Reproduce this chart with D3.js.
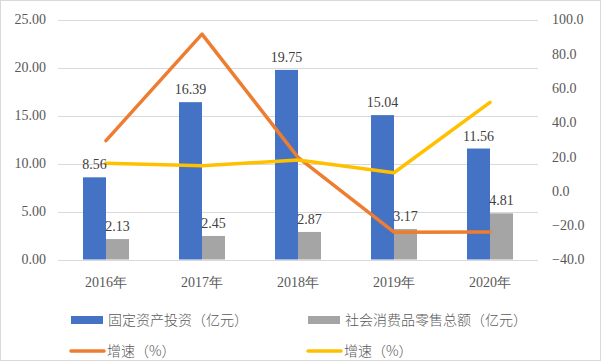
<!DOCTYPE html>
<html>
<head>
<meta charset="utf-8">
<script src="https://cdn.jsdelivr.net/npm/d3@7"></script>
<style>
    body { margin: 0; background: #fff; }
    svg { display: block; }
    text.serif { font-family: 'Liberation Serif', 'Times New Roman', serif; }
</style>
</head>
<body>
<svg id="vis_svg"></svg>
<script>
// Data
let years = ['2016年', '2017年', '2018年', '2019年', '2020年'];
let fixedAsset = [8.56, 16.39, 19.75, 15.04, 11.56];          // 固定资产投资（亿元）
let retailSales = [2.13, 2.45, 2.87, 3.17, 4.81];              // 社会消费品零售总额（亿元）
let fixedGrowth = [29.3, 91.5, 19.6, -24.1, -23.9];            // 增速（%） orange
let retailGrowth = [16.1, 14.7, 18.0, 10.6, 51.7];             // 增速（%） yellow
let leftTicks = [0, 5, 10, 15, 20, 25];
let rightTicks = [-40, -20, 0, 20, 40, 60, 80, 100];

let config = {
    width: 602,
    height: 362,
    plot: { left: 58, right: 538, top: 19.5, bottom: 259.5 },
    colors: { blue: '#4472C4', gray: '#A5A5A5', orange: '#ED7D31', yellow: '#FFC000' },
    barWidth: 23
};

let svg = d3.select('#vis_svg')
    .attr('width', config.width)
    .attr('height', config.height);

// chart frame
svg.append('rect')
    .attr('x', 0.5).attr('y', 0.5)
    .attr('width', config.width - 2).attr('height', config.height - 2)
    .style('fill', '#fff')
    .style('stroke', '#D9D9D9');

// Scales
let x = d3.scaleBand()
    .domain(years)
    .range([config.plot.left, config.plot.right]);

let xSub = d3.scaleBand()
    .domain(['fixed', 'retail'])
    .range([x.bandwidth() / 2 - config.barWidth, x.bandwidth() / 2 + config.barWidth]);

let yLeft = d3.scaleLinear()
    .domain([0, 25])
    .range([config.plot.bottom, config.plot.top]);

let yRight = d3.scaleLinear()
    .domain([-40, 100])
    .range([config.plot.bottom, config.plot.top]);

// Gridlines
svg.append('g')
    .selectAll('line')
    .data(leftTicks)
    .join('line')
    .attr('x1', config.plot.left)
    .attr('x2', config.plot.right)
    .attr('y1', d => Math.round(yLeft(d)) + 0.5)
    .attr('y2', d => Math.round(yLeft(d)) + 0.5)
    .style('stroke', '#D9D9D9')
    .style('stroke-width', 1);

// Axes
let leftAxis = svg.append('g')
    .attr('transform', translate(46, 0))
    .call(d3.axisLeft(yLeft).tickValues(leftTicks).tickFormat(d3.format('.2f')).tickSize(0).tickPadding(0));
leftAxis.select('.domain').remove();

let rightAxis = svg.append('g')
    .attr('transform', translate(552, 0))
    .call(d3.axisRight(yRight).tickValues(rightTicks).tickFormat(d3.format('.1f')).tickSize(0).tickPadding(0));
rightAxis.select('.domain').remove();

let bottomAxis = svg.append('g')
    .attr('transform', translate(0, 282))
    .call(d3.axisBottom(x).tickSize(0).tickPadding(0));
bottomAxis.select('.domain').remove();
bottomAxis.selectAll('text').attr('dy', '0.35em');

[leftAxis, rightAxis, bottomAxis].forEach(a => a.attr('font-family', null).attr('font-size', null));
svg.selectAll('.tick text')
    .attr('class', 'serif')
    .style('font-size', '14px')
    .style('fill', '#595959');

// Bars
let series = [
    { key: 'fixed', values: fixedAsset, color: config.colors.blue },
    { key: 'retail', values: retailSales, color: config.colors.gray }
];

series.forEach(s => {
    let g = svg.append('g');
    g.selectAll('rect')
        .data(s.values)
        .join('rect')
        .attr('x', (d, i) => x(years[i]) + xSub(s.key))
        .attr('y', d => yLeft(d))
        .attr('width', xSub.bandwidth())
        .attr('height', d => yLeft(0) - yLeft(d))
        .style('fill', s.color);
});

// Lines
let lineSeries = [
    { values: fixedGrowth, color: config.colors.orange },
    { values: retailGrowth, color: config.colors.yellow }
];

lineSeries.forEach(s => {
    let line = d3.line()
        .x((d, i) => x(years[i]) + x.bandwidth() / 2)
        .y(d => yRight(d));
    svg.append('path')
        .datum(s.values)
        .attr('d', line)
        .style('fill', 'none')
        .style('stroke', s.color)
        .style('stroke-width', 3.5)
        .style('stroke-linejoin', 'round')
        .style('stroke-linecap', 'round');
});

// Data labels
series.forEach(s => {
    svg.append('g')
        .selectAll('text')
        .data(s.values)
        .join('text')
        .attr('class', 'serif')
        .attr('x', (d, i) => x(years[i]) + xSub(s.key) + xSub.bandwidth() / 2)
        .attr('y', d => yLeft(d) - 8)
        .attr('text-anchor', 'middle')
        .style('font-size', '14px')
        .style('fill', '#404040')
        .text(d => d3.format('.2f')(d));
});

// Legend
let legendItems = [
    { label: '固定资产投资（亿元）', color: config.colors.blue, type: 'rect', x: 71, y: 320 },
    { label: '社会消费品零售总额（亿元）', color: config.colors.gray, type: 'rect', x: 308, y: 320 },
    { label: '增速（%）', color: config.colors.orange, type: 'line', x: 70, y: 351 },
    { label: '增速（%）', color: config.colors.yellow, type: 'line', x: 307, y: 351 }
];

let legend = svg.append('g');
legendItems.forEach(item => {
    if (item.type === 'rect') {
        legend.append('rect')
            .attr('x', item.x).attr('y', item.y - 4)
            .attr('width', 32).attr('height', 8)
            .style('fill', item.color);
    } else {
        legend.append('line')
            .attr('x1', item.x + 1).attr('x2', item.x + 34)
            .attr('y1', item.y).attr('y2', item.y)
            .style('stroke', item.color)
            .style('stroke-width', 3.5)
            .style('stroke-linecap', 'round');
    }
    legend.append('text')
        .attr('x', item.x + 37)
        .attr('y', item.y)
        .attr('dy', '0.35em')
        .style('font-family', '"Noto Sans CJK SC", sans-serif')
        .style('font-size', '14px')
        .style('font-weight', 300)
        .style('fill', '#595959')
        .text(item.label);
});

// Helper functions
function translate(x, y) {
    return 'translate(' + x + ',' + y + ')';
}
</script>
</body>
</html>
